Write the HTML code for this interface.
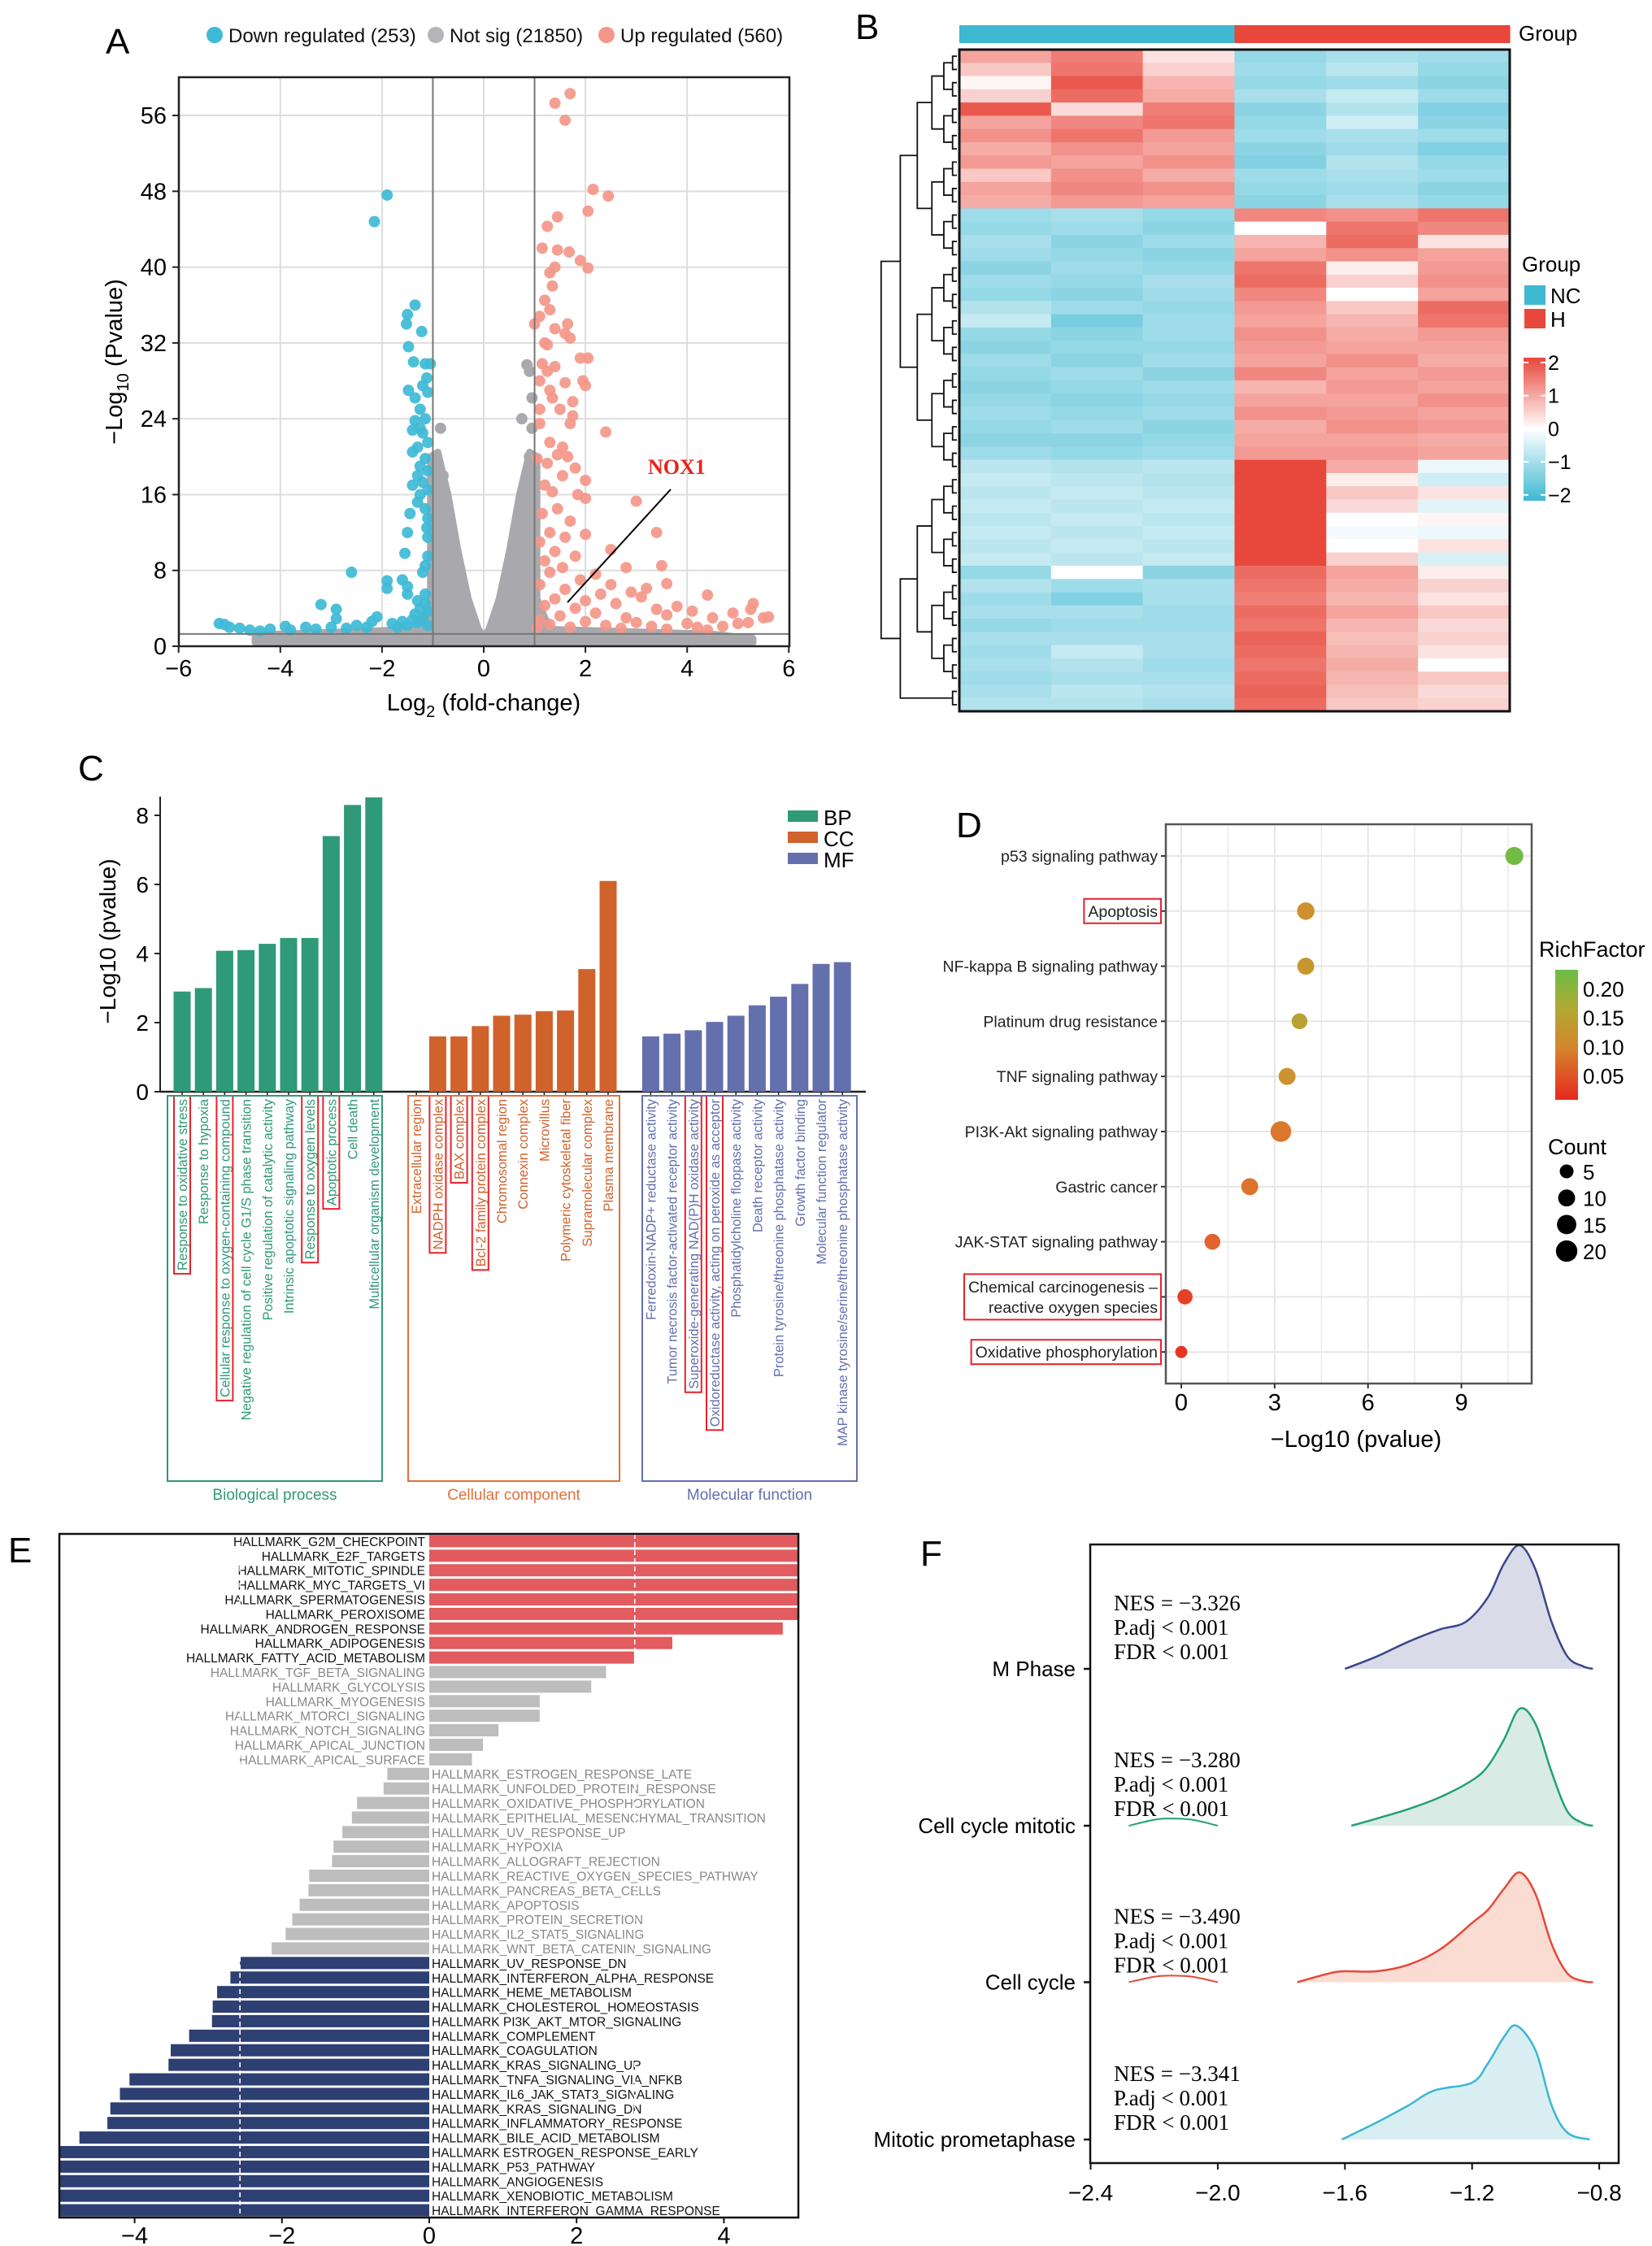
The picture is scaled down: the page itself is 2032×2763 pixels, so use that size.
<!DOCTYPE html>
<html><head><meta charset="utf-8"><title>Figure</title>
<style>
html,body{margin:0;padding:0;background:#fff;}
svg{display:block;font-family:"Liberation Sans",Arial,sans-serif;}
.serif{font-family:"Liberation Serif","Times New Roman",serif;}
</style></head>
<body>
<svg id="fig" width="2032" height="2763" viewBox="0 0 2032 2763" xmlns="http://www.w3.org/2000/svg">
<rect x="0" y="0" width="2032" height="2763" fill="#fff"/>
<text x="130" y="66" font-size="44">A</text>
<text x="1052" y="48" font-size="44">B</text>
<text x="96" y="960" font-size="44">C</text>
<text x="1176" y="1030" font-size="44">D</text>
<text x="10" y="1922" font-size="44">E</text>
<text x="1132" y="1926" font-size="44">F</text>

<g id="pA"></g>
<g id="pB"></g>
<g id="pC"></g>
<g id="pD"></g>
<g id="pE"></g>
<g id="pF"></g>
</svg>
<script>
// ---------------- DATA: Panel A (volcano) ----------------
const aTicksX = [-6,-4,-2,0,2,4,6];
const aTicksY = [0,8,16,24,32,40,48,56];
const downX = [-1.9,-2.15,-1.35,-1.5,-1.52,-1.22,-1.48,-1.38,-1.15,-1.05,-1.12,-1.2,-1.48,-1.1,-1.35,-1.25,-1.15,-1.35,-1.25,-1.4,-1.2,-1.1,-1.3,-1.4,-1.15,-1.25,-1.1,-1.3,-1.2,-1.4,-1.1,-1.25,-1.3,-1.15,-1.1,-1.45,-1.12,-1.5,-1.1,-1.55,-1.1,-1.15,-1.2,-2.6,-1.9,-1.6,-1.9,-1.5,-1.5,-1.15,-1.3,-1.15,-1.25,-1.1,-1.35,-3.2,-2.9,-2.1,-2.9,-1.2,-1.4,-1.6,-1.8,-2.2,-2.5,-3.0,-3.5,-3.9,-4.2,-4.6,-5.0,-5.2,-5.1,-4.8,-4.4,-3.8,-3.3,-2.7,-2.3,-1.7,-1.5,-1.3,-1.1];
const downY = [47.6,44.8,36,35,34,33.2,31.6,30,29.8,29.8,28.3,27.5,27,26.8,26.2,25,24,23.8,23,22.8,22.5,21.5,21,20.5,19.8,19,18.5,18,17.3,17,16.5,16,15.2,14.5,13.5,14,12.5,12,11.5,9.8,9.5,8.5,7.8,7.8,6.9,7,6.1,6.3,5.5,5.5,4.8,4.5,4,3.7,3.4,4.4,3.9,3.1,2.9,3.0,2.8,2.6,2.4,2.6,2.2,2.0,2.0,2.1,1.8,1.7,2.0,2.4,2.3,1.9,1.6,1.7,1.8,1.9,2.0,2.0,2.2,2.5,2.2];
const upX = [1.7,1.4,1.6,2.15,2.45,2.05,1.45,1.25,1.15,1.45,1.68,1.9,2.05,1.4,1.3,1.35,1.2,1.3,1.1,1.65,1.0,1.4,1.6,1.7,1.2,1.25,1.9,2.05,1.15,1.4,1.25,1.1,1.6,1.95,2.0,1.3,1.35,1.75,1.1,1.5,1.75,1.7,1.1,2.4,1.3,1.55,1.45,1.65,1.05,1.25,1.8,1.55,2.0,1.2,1.35,1.85,2.0,3.0,1.45,1.15,1.7,3.4,2.0,1.3,1.6,1.1,2.5,1.4,1.8,1.2,3.5,2.8,1.55,2.2,1.3,1.9,3.6,2.5,3.2,1.1,1.6,2.3,2.9,4.4,3.1,1.4,2.0,2.6,3.8,5.3,5.25,4.1,1.2,1.8,3.4,2.2,4.9,5.6,5.5,3.6,1.5,2.8,4.5,1.1,2.0,3.0,4.0,5.0,1.3,2.4,3.3,4.2,4.7,5.2,1.7,2.7,3.6,4.4,1.05];
const upY = [58.3,57.3,55.5,48.2,47.5,45.9,45.3,44.3,42,41.8,41.6,40.7,39.9,40,39.4,38,36.5,35.5,34.8,34,34,33.5,33,32.5,32,31.8,30.4,30.4,29.8,29.5,29,28,27.8,28,27.5,27,26.2,25.8,25,25,24.3,23.5,23.5,22.6,21.5,21,20.2,20,19.8,19.3,18.8,18,17.5,17,16.3,16,15.6,15.3,14.5,14,13.2,12,11.8,12,11.5,11,10.2,10,9.5,9,8.5,8.3,8.3,7.6,7.8,7,6.6,6.5,6.1,6.5,6,5.5,5.7,5.4,5.2,5,4.8,4.5,4.2,4.5,3.9,3.7,4.3,4.0,3.9,3.5,3.5,3.1,3.0,3.3,3.2,3.0,3.0,2.8,2.6,2.5,2.4,2.4,2.3,2.2,2.1,2.0,2.1,2.5,2.0,1.9,1.8,1.7,2.0];
const nsX = [-0.85,0.85,0.9,0.95,0.75,0.95,0.9,-0.95,4.8,5.25,-0.8];
const nsY = [23,29.7,29,26.2,24,23,20,20,0.8,0.7,18];
const nsEnvX = [-4.5,-4.5,-1.3,-1.05,-1.05,-0.9,-0.7,-0.5,-0.3,-0.1,0,0.1,0.3,0.5,0.7,0.9,1.05,1.05,1.3,4.5,5.3,5.3];
const nsEnvY = [0.4,1.2,1.8,5,20,20.5,16,10,5,1.8,1,1.8,5,10,16,20.5,20,5,1.8,1.3,0.8,0.4];

// ---------------- DATA: Panel B (heatmap) ----------------
const bSamples = ['NC1','NC2','NC3','H1','H2','H3'];
const bGroups = ['NC','NC','NC','H','H','H'];
const bRows = [
[1.0,1.4,0.3,-1.1,-0.9,-1.0],[0.6,1.5,0.5,-1.0,-0.7,-1.1],[0.1,1.8,0.8,-1.1,-1.0,-1.2],[0.5,1.6,0.9,-0.9,-0.6,-1.0],
[1.8,0.4,1.4,-1.2,-0.8,-1.3],[1.0,1.3,1.5,-1.1,-0.5,-1.2],[1.2,1.5,1.1,-1.0,-0.9,-1.0],[0.9,1.2,1.0,-1.2,-1.0,-1.3],
[1.1,1.0,1.2,-1.3,-0.8,-1.1],[0.6,1.2,0.9,-1.0,-0.9,-1.0],[1.0,1.3,1.2,-1.1,-1.0,-1.2],[0.9,1.1,1.0,-1.2,-0.9,-1.1],
[-1.0,-0.9,-1.1,1.3,1.2,1.5],[-1.1,-1.0,-1.2,0.0,1.5,1.3],[-0.9,-1.2,-1.0,0.8,1.6,0.3],[-1.0,-1.1,-1.2,1.0,1.2,1.0],
[-1.2,-1.0,-1.1,1.5,0.2,1.1],[-1.0,-1.1,-0.9,1.6,0.5,1.2],[-1.1,-1.2,-1.0,1.3,0.0,1.0],[-0.8,-1.0,-1.1,1.1,0.6,1.6],
[-0.6,-1.4,-1.0,1.0,0.8,1.5],[-1.1,-1.2,-1.0,1.2,0.9,1.1],[-1.2,-1.1,-1.1,1.1,1.0,1.0],[-1.0,-1.2,-1.0,1.0,1.2,0.9],
[-1.1,-1.0,-1.2,1.3,1.0,1.1],[-1.2,-1.1,-1.0,0.8,1.1,1.0],[-1.1,-1.2,-1.1,1.0,1.0,1.2],[-1.0,-1.1,-1.0,1.2,1.1,1.0],
[-1.1,-1.0,-1.2,0.9,1.2,1.1],[-1.2,-1.2,-1.1,1.0,1.0,0.9],[-1.0,-1.1,-1.0,1.1,1.1,1.0],
[-0.7,-0.8,-0.7,2.0,0.9,-0.2],[-0.6,-0.7,-0.8,2.0,0.2,-0.5],[-0.7,-0.6,-0.7,2.0,0.6,0.3],[-0.6,-0.7,-0.6,2.0,0.4,-0.3],
[-0.7,-0.6,-0.7,2.0,0.0,0.1],[-0.6,-0.7,-0.6,2.0,-0.1,-0.2],[-0.7,-0.6,-0.7,2.0,0.0,0.3],[-0.6,-0.7,-0.6,2.0,0.5,-0.4],
[-1.1,0.0,-1.2,1.6,1.0,0.2],[-0.8,-1.0,-0.9,1.5,0.9,0.5],[-1.0,-1.3,-0.9,1.4,0.8,0.3],[-0.9,-0.9,-1.0,1.6,1.0,0.6],
[-1.1,-1.0,-1.0,1.5,0.8,0.4],[-0.9,-0.9,-0.9,1.7,0.7,0.5],[-1.0,-0.6,-0.9,1.6,0.8,0.3],[-0.9,-0.8,-1.0,1.5,0.9,0.0],
[-1.0,-0.9,-0.9,1.6,0.8,0.6],[-0.9,-0.7,-0.8,1.7,0.7,0.4],[-0.8,-0.8,-0.9,1.6,0.6,0.5]
];
const bLegendTicks = [2,1,0,-1,-2];

// ---------------- DATA: Panel C (GO bars) ----------------
const cBPTerms = ['Response to oxidative stress','Response to hypoxia','Cellular response to oxygen-containing compound','Negative regulation of cell cycle G1/S phase transition','Positive regulation of catalytic activity','Intrinsic apoptotic signaling pathway','Response to oxygen levels','Apoptotic process','Cell death','Multicellular organism development'];
const cBPValues = [2.9,3.0,4.08,4.1,4.28,4.45,4.45,7.4,8.3,8.52];
const cCCTerms = ['Extracellular region','NADPH oxidase complex','BAX complex','Bcl-2 family protein complex','Chromosomal region','Connexin complex','Microvillus','Polymeric cytoskeletal fiber','Supramolecular complex','Plasma membrane'];
const cCCValues = [0,1.6,1.6,1.9,2.2,2.23,2.33,2.35,3.55,6.1];
const cMFTerms = ['Ferredoxin-NADP+ reductase activity','Tumor necrosis factor-activated receptor activity','Superoxide-generating NAD(P)H oxidase activity','Oxidoreductase activity, acting on peroxide as acceptor','Phosphatidylcholine floppase activity','Death receptor activity','Protein tyrosine/threonine phosphatase activity','Growth factor binding','Molecular function regulator','MAP kinase tyrosine/serine/threonine phosphatase activity'];
const cMFValues = [1.6,1.68,1.78,2.02,2.2,2.5,2.75,3.12,3.7,3.75];
const cBPBoxed = [0,2,6,7];
const cCCBoxed = [1,2,3];
const cMFBoxed = [2,3];
const cTicksY = [0,2,4,6,8];

// ---------------- DATA: Panel D (KEGG dots) ----------------
const dPathways = ['p53 signaling pathway','Apoptosis','NF-kappa B signaling pathway','Platinum drug resistance','TNF signaling pathway','PI3K-Akt signaling pathway','Gastric cancer','JAK-STAT signaling pathway','Chemical carcinogenesis –|reactive oxygen species','Oxidative phosphorylation'];
const dLogP = [10.7,4.0,4.0,3.8,3.4,3.2,2.2,1.0,0.12,0.0];
const dRich = [0.21,0.11,0.12,0.14,0.11,0.075,0.07,0.05,0.02,0.01];
const dCount = [12,11,10,8,10,18,10,8,7,3];
const dBoxed = [1,8,9];
const dTicksX = [0,3,6,9];
const dRichTicks = [0.20,0.15,0.10,0.05];
const dCountTicks = [5,10,15,20];

// ---------------- DATA: Panel E (GSEA hallmark) ----------------
const eTerms = ['HALLMARK_G2M_CHECKPOINT','HALLMARK_E2F_TARGETS','HALLMARK_MITOTIC_SPINDLE','HALLMARK_MYC_TARGETS_VI','HALLMARK_SPERMATOGENESIS','HALLMARK_PEROXISOME','HALLMARK_ANDROGEN_RESPONSE','HALLMARK_ADIPOGENESIS','HALLMARK_FATTY_ACID_METABOLISM','HALLMARK_TGF_BETA_SIGNALING','HALLMARK_GLYCOLYSIS','HALLMARK_MYOGENESIS','HALLMARK_MTORCI_SIGNALING','HALLMARK_NOTCH_SIGNALING','HALLMARK_APICAL_JUNCTION','HALLMARK_APICAL_SURFACE','HALLMARK_ESTROGEN_RESPONSE_LATE','HALLMARK_UNFOLDED_PROTEIN_RESPONSE','HALLMARK_OXIDATIVE_PHOSPHORYLATION','HALLMARK_EPITHELIAL_MESENCHYMAL_TRANSITION','HALLMARK_UV_RESPONSE_UP','HALLMARK_HYPOXIA','HALLMARK_ALLOGRAFT_REJECTION','HALLMARK_REACTIVE_OXYGEN_SPECIES_PATHWAY','HALLMARK_PANCREAS_BETA_CELLS','HALLMARK_APOPTOSIS','HALLMARK_PROTEIN_SECRETION','HALLMARK_IL2_STAT5_SIGNALING','HALLMARK_WNT_BETA_CATENIN_SIGNALING','HALLMARK_UV_RESPONSE_DN','HALLMARK_INTERFERON_ALPHA_RESPONSE','HALLMARK_HEME_METABOLISM','HALLMARK_CHOLESTEROL_HOMEOSTASIS','HALLMARK PI3K_AKT_MTOR_SIGNALING','HALLMARK_COMPLEMENT','HALLMARK_COAGULATION','HALLMARK_KRAS_SIGNALING_UP','HALLMARK_TNFA_SIGNALING_VIA_NFKB','HALLMARK_IL6_JAK_STAT3_SIGNALING','HALLMARK_KRAS_SIGNALING_DN','HALLMARK_INFLAMMATORY_RESPONSE','HALLMARK_BILE_ACID_METABOLISM','HALLMARK ESTROGEN_RESPONSE_EARLY','HALLMARK_P53_PATHWAY','HALLMARK_ANGIOGENESIS','HALLMARK_XENOBIOTIC_METABOLISM','HALLMARK_INTERFERON_GAMMA_RESPONSE'];
const eScores = [6,6,6,6,6,6,4.8,3.3,2.78,2.4,2.2,1.5,1.5,0.94,0.73,0.58,-0.57,-0.62,-0.98,-1.05,-1.18,-1.3,-1.32,-1.63,-1.64,-1.76,-1.86,-1.95,-2.14,-2.57,-2.7,-2.88,-2.94,-2.95,-3.26,-3.51,-3.54,-4.07,-4.2,-4.33,-4.37,-4.75,-6,-6,-6,-6,-6];
const eClass = ['up','up','up','up','up','up','up','up','up','ns','ns','ns','ns','ns','ns','ns','ns','ns','ns','ns','ns','ns','ns','ns','ns','ns','ns','ns','ns','down','down','down','down','down','down','down','down','down','down','down','down','down','down','down','down','down','down'];
const eTicksX = [-4,-2,0,2,4];
const eThresholds = [2.79,-2.57];

// ---------------- DATA: Panel F (ridge) ----------------
const fSets = ['M Phase','Cell cycle mitotic','Cell cycle','Mitotic prometaphase'];
const fNES = ['−3.326','−3.280','−3.490','−3.341'];
const fMX = [-1.6,-1.5,-1.4,-1.3,-1.22,-1.15,-1.1,-1.05,-1.0,-0.95,-0.9,-0.85,-0.82];
const fMY = [0,0.1,0.22,0.32,0.38,0.58,0.85,1.0,0.8,0.38,0.1,0.02,0];
const fCMX = [-1.58,-1.5,-1.4,-1.3,-1.2,-1.15,-1.1,-1.05,-1.0,-0.95,-0.9,-0.85,-0.82];
const fCMY = [0,0.06,0.14,0.24,0.38,0.5,0.72,0.98,0.85,0.45,0.12,0.02,0];
const fCCX = [-1.75,-1.65,-1.6,-1.5,-1.4,-1.3,-1.2,-1.15,-1.1,-1.05,-1.0,-0.95,-0.9,-0.85,-0.82];
const fCCY = [0,0.08,0.1,0.1,0.16,0.3,0.54,0.66,0.85,1.0,0.8,0.35,0.08,0.01,0];
const fMPX = [-1.61,-1.5,-1.4,-1.32,-1.2,-1.15,-1.1,-1.06,-1.0,-0.95,-0.9,-0.83];
const fMPY = [0,0.15,0.3,0.43,0.5,0.67,0.9,1.0,0.78,0.3,0.06,0];
const fBumpX = [-2.28,-2.2,-2.15,-2.08,-2.0];
const fBumpY = [0,0.05,0.06,0.05,0];
const fTicksX = [-2.4,-2.0,-1.6,-1.2,-0.8];

// ---------------- helpers ----------------
const NS='http://www.w3.org/2000/svg';
function mk(tag, attrs, parent){ const e=document.createElementNS(NS,tag); for(const k in attrs) e.setAttribute(k,attrs[k]); parent.appendChild(e); return e; }
function txt(s, attrs, parent){ const e=mk('text',attrs,parent); e.textContent=s; return e; }
function fmtTick(v){ return (v<0?'−':'')+Math.abs(v); }

// ================= Panel A =================
(function(){
  const g=document.getElementById('pA');
  const X0=220,X1=971,Y0=795,YT=95;
  const ax=v=>595+v*62.55, ay=v=>795-v*11.66;
  const leg=[['#3fbad6','Down regulated (253)',264],['#b5b5b8','Not sig (21850)',536],['#f4978a','Up regulated (560)',746]];
  leg.forEach(l=>{
    const c=mk('circle',{cx:l[2],cy:43,r:10,fill:l[0]},g);
    
    
    const t=txt(l[1],{x:l[2]+17,y:52,'font-size':24,fill:'#111'},g);
    
    
  });
  aTicksX.forEach(v=>{
    const l=mk('line',{x1:ax(v),x2:ax(v),y1:YT,y2:Y0,stroke:'#ddd','stroke-width':2},g);
    
    
  });
  aTicksY.forEach(v=>{
    const l=mk('line',{x1:X0,x2:X1,y1:ay(v),y2:ay(v),stroke:'#ddd','stroke-width':2},g);
    
    
  });
  let pts=nsEnvX.map((x,i)=>ax(x)+','+ay(nsEnvY[i])).join(' ');
  const env=mk('polygon',{points:pts,fill:'#a9a9ad',stroke:'#a9a9ad','stroke-width':8,'stroke-linejoin':'round'},g);
  
  
  nsX.forEach((x,i)=>{
    const c=mk('circle',{cx:ax(x),cy:ay(nsY[i]),r:7,fill:'#a9a9ad'},g);
    
    
  });
  downX.forEach((x,i)=>{
    const c=mk('circle',{cx:ax(x),cy:ay(downY[i]),r:7,fill:'#3fbad6','fill-opacity':0.92},g);
    
    
  });
  upX.forEach((x,i)=>{
    const c=mk('circle',{cx:ax(x),cy:ay(upY[i]),r:7,fill:'#f4978a','fill-opacity':0.92},g);
    
    
  });
  [-1,1].forEach(v=>{
    const l=mk('line',{x1:ax(v),x2:ax(v),y1:YT,y2:Y0,stroke:'#777','stroke-width':2},g);
    
    
  });
  const th=mk('line',{x1:X0,x2:X1,y1:ay(1.3),y2:ay(1.3),stroke:'#777','stroke-width':2},g);
  
  
  const nl=mk('line',{x1:825,y1:602,x2:698,y2:741,stroke:'#000','stroke-width':2},g);
  
  
  const nt=txt('NOX1',{x:797,y:583,'font-size':26,'font-weight':'bold',fill:'#e8231b',class:'serif'},g);
  
  
  const fr=mk('rect',{x:X0,y:YT,width:X1-X0,height:Y0-YT,fill:'none',stroke:'#222','stroke-width':2.5},g);
  
  
  aTicksX.forEach(v=>{
    const k=mk('line',{x1:ax(v),x2:ax(v),y1:Y0,y2:Y0+8,stroke:'#222','stroke-width':2},g);
    
    
    const t=txt(fmtTick(v),{x:ax(v),y:832,'font-size':29,'text-anchor':'middle'},g);
    
    
  });
  aTicksY.forEach(v=>{
    const k=mk('line',{x1:X0-8,x2:X0,y1:ay(v),y2:ay(v),stroke:'#222','stroke-width':2},g);
    
    
    const t=txt(String(v),{x:205,y:ay(v)+10,'font-size':29,'text-anchor':'end'},g);
    
    
  });
  const xt=mk('text',{x:595,y:874,'font-size':29,'text-anchor':'middle'},g);
  xt.innerHTML='Log<tspan font-size="20" dy="8">2</tspan><tspan dy="-8"> (fold-change)</tspan>';
  
  
  const yt=mk('text',{transform:'translate(150,445) rotate(-90)','font-size':29,'text-anchor':'middle'},g);
  yt.innerHTML='−Log<tspan font-size="20" dy="8">10</tspan><tspan dy="-8"> (Pvalue)</tspan>';
  
  
})();

// ================= Panel B =================
(function(){
  const g=document.getElementById('pB');
  const X0=1180,X1=1857,Y0=61,Y1=875;
  const cw=(X1-X0)/bSamples.length, rh=(Y1-Y0)/bRows.length;
  function col(v){
    v=Math.max(-2,Math.min(2,v));
    const lo=[63,184,210], hi=[232,71,59], w=[255,255,255];
    const t=Math.abs(v)/2, c=v<0?lo:hi;
    return 'rgb('+w.map((a,i)=>Math.round(a+(c[i]-a)*t)).join(',')+')';
  }
  bRows.forEach((row,i)=>{
    row.forEach((v,j)=>{
      const r=mk('rect',{x:X0+j*cw,y:Y0+i*rh,width:cw+0.6,height:rh+0.6,fill:col(v)},g);
      
      
    });
  });
  const fr=mk('rect',{x:X0,y:Y0,width:X1-X0,height:Y1-Y0,fill:'none',stroke:'#111','stroke-width':3},g);
  
  
  bGroups.forEach((gr,j)=>{
    const r=mk('rect',{x:X0+j*cw,y:31,width:cw+0.6,height:22,fill:gr==='NC'?'#3fb8d2':'#e8473b'},g);
    
    
  });
  const gl=txt('Group',{x:1868,y:50,'font-size':26},g);
  
  
  let nodes=bRows.map((r,i)=>({y:Y0+(i+0.5)*rh,x:1177}));
  let depth=0;
  while(nodes.length>1){
    depth++;
    const nx=[];
    for(let i=0;i<nodes.length;i+=2){
      if(i+1>=nodes.length){nx.push(nodes[i]);continue;}
      const a=nodes[i],b=nodes[i+1];
      const x=1177-Math.pow(depth,1.6)*5.3;
      const p=mk('path',{d:`M${a.x},${a.y}H${x}V${b.y}H${b.x}`,fill:'none',stroke:'#111','stroke-width':1.8},g);
      
      
      nx.push({x:x,y:(a.y+b.y)/2});
    }
    nodes=nx;
  }
  const lt=txt('Group',{x:1872,y:334,'font-size':26},g);
  
  
  [['NC','#3fb8d2',351],['H','#e8473b',380]].forEach(e=>{
    const r=mk('rect',{x:1875,y:e[2],width:26,height:24,fill:e[1]},g);
    
    
    const t=txt(e[0],{x:1907,y:e[2]+22,'font-size':26},g);
    
    
  });
  const defs=mk('defs',{},g);
  const lg=mk('linearGradient',{id:'bgrad',x1:0,y1:0,x2:0,y2:1},defs);
  mk('stop',{offset:'0','stop-color':'#e8473b'},lg);
  mk('stop',{offset:'0.5','stop-color':'#ffffff'},lg);
  mk('stop',{offset:'1','stop-color':'#3fb8d2'},lg);
  const cb=mk('rect',{x:1874,y:440,width:27,height:176,fill:'url(#bgrad)'},g);
  
  
  bLegendTicks.forEach((v,i)=>{
    const y=446+i*40.7;
    mk('line',{x1:1874,x2:1880,y1:y,y2:y,stroke:'#fff','stroke-width':2},g);
    mk('line',{x1:1895,x2:1901,y1:y,y2:y,stroke:'#fff','stroke-width':2},g);
    const t=txt(fmtTick(v),{x:1904,y:y+9,'font-size':25},g);
    
    
  });
})();

// ================= Panel C =================
(function(){
  const g=document.getElementById('pC');
  const base=1343, unit=42.5, pitch=26.2, bw=21;
  const cy=v=>base-v*unit, cx=i=>224+i*pitch;
  const groups=[[cBPTerms,cBPValues,cBPBoxed,0,'#2e9a78','bp'],[cCCTerms,cCCValues,cCCBoxed,11,'#d0622c','cc'],[cMFTerms,cMFValues,cMFBoxed,22,'#6470ad','mf']];
  const yl=mk('line',{x1:197,x2:197,y1:980,y2:base,stroke:'#222','stroke-width':2},g);
  
  
  const xl=mk('line',{x1:197,x2:1065,y1:base,y2:base,stroke:'#222','stroke-width':2.5},g);
  
  
  cTicksY.forEach(v=>{
    mk('line',{x1:190,x2:197,y1:cy(v),y2:cy(v),stroke:'#222','stroke-width':2},g);
    const t=txt(String(v),{x:183,y:cy(v)+10,'font-size':28,'text-anchor':'end'},g);
    
    
  });
  const yt=txt('−Log10 (pvalue)',{transform:'translate(142,1158) rotate(-90)','font-size':28,'text-anchor':'middle'},g);
  
  
  groups.forEach(gr=>{
    const [terms,vals,boxed,off,color,key]=gr;
    vals.forEach((v,i)=>{
      const x=cx(off+i);
      if(v>0){
        const r=mk('rect',{x:x-bw/2,y:cy(v),width:bw,height:base-cy(v),fill:color},g);
        
        
      }
      mk('line',{x1:x,x2:x,y1:base,y2:base+6,stroke:'#222','stroke-width':1.5},g);
      const t=txt(terms[i],{transform:`translate(${x+6},1352) rotate(-90)`,'font-size':16.5,'text-anchor':'end',fill:color},g);
      
      
      if(boxed.indexOf(i)>=0){
        const L=t.getComputedTextLength();
        const b=mk('rect',{x:x-10,y:1348,width:20,height:L+8,fill:'none',stroke:'#e8212b','stroke-width':2},g);
        
        
      }
    });
  });
  const boxes=[[206,470,'#2e9a78','Biological process'],[502,762,'#e0703a','Cellular component'],[790,1054,'#6470ad','Molecular function']];
  boxes.forEach(b=>{
    const r=mk('rect',{x:b[0],y:1348,width:b[1]-b[0],height:474,fill:'none',stroke:b[2],'stroke-width':2},g);
    
    
    const t=txt(b[3],{x:(b[0]+b[1])/2,y:1845,'font-size':19,'text-anchor':'middle',fill:b[2]},g);
    
    
  });
  [['BP','#2e9a78',997],['CC','#d0622c',1023],['MF','#6470ad',1049]].forEach(e=>{
    const r=mk('rect',{x:969,y:e[2],width:37,height:14,fill:e[1]},g);
    
    
    const t=txt(e[0],{x:1013,y:e[2]+18,'font-size':26},g);
    
    
  });
})();

// ================= Panel D =================
(function(){
  const g=document.getElementById('pD');
  const X0=1434,X1=1884,Y0=1014,Y1=1702;
  const dx=v=>1453+v*38.28, dy=i=>1053+i*67.8;
  const fr0=mk('rect',{x:X0,y:Y0,width:X1-X0,height:Y1-Y0,fill:'#fff'},g);
  
  
  [0,1.5,3,4.5,6,7.5,9,10.5].forEach(v=>{
    const l=mk('line',{x1:dx(v),x2:dx(v),y1:Y0,y2:Y1,stroke:'#e6e6e6','stroke-width':(v%3===0)?2:1.2},g);
    
    
  });
  function rc(v){
    const stops=[[0,[232,40,35]],[0.05,[226,100,45]],[0.10,[212,140,45]],[0.15,[178,168,50]],[0.22,[106,190,72]]];
    v=Math.max(0,Math.min(0.22,v));
    for(let i=0;i<stops.length-1;i++){
      const a=stops[i],b=stops[i+1];
      if(v<=b[0]){const t=(v-a[0])/(b[0]-a[0]);return 'rgb('+a[1].map((c,k)=>Math.round(c+(b[1][k]-c)*t)).join(',')+')';}
    }
  }
  dPathways.forEach((p,i)=>{
    const l=mk('line',{x1:X0,x2:X1,y1:dy(i),y2:dy(i),stroke:'#e6e6e6','stroke-width':2},g);
    
    
    mk('line',{x1:X0-6,x2:X0,y1:dy(i),y2:dy(i),stroke:'#333','stroke-width':2},g);
    const lines=p.split('|');
    let maxL=0;
    lines.forEach((s,k)=>{
      const y=dy(i)+7+(lines.length>1?(k-0.5)*25:0);
      const t=txt(s,{x:1424,y:y,'font-size':19.5,'text-anchor':'end',fill:'#222'},g);
      
      
      maxL=Math.max(maxL,t.getComputedTextLength());
    });
    if(dBoxed.indexOf(i)>=0){
      const h=lines.length>1?56:30;
      const b=mk('rect',{x:1424-maxL-5,y:dy(i)-h/2,width:maxL+9,height:h,fill:'none',stroke:'#e8212b','stroke-width':2},g);
      
      
    }
  });
  dPathways.forEach((p,i)=>{
    const c=mk('circle',{cx:dx(dLogP[i]),cy:dy(i),r:2.1*Math.sqrt(dCount[i])+3.8,fill:rc(dRich[i])},g);
    
    
  });
  const fr=mk('rect',{x:X0,y:Y0,width:X1-X0,height:Y1-Y0,fill:'none',stroke:'#555','stroke-width':2.5},g);
  
  
  dTicksX.forEach(v=>{
    mk('line',{x1:dx(v),x2:dx(v),y1:Y1,y2:Y1+6,stroke:'#333','stroke-width':2},g);
    const t=txt(String(v),{x:dx(v),y:1735,'font-size':29,'text-anchor':'middle'},g);
    
    
  });
  const xt=txt('−Log10 (pvalue)',{x:1668,y:1780,'font-size':29,'text-anchor':'middle'},g);
  
  
  const rt=txt('RichFactor',{x:1893,y:1177,'font-size':27},g);
  
  
  const defs=mk('defs',{},g);
  const lg=mk('linearGradient',{id:'dgrad',x1:0,y1:0,x2:0,y2:1},defs);
  mk('stop',{offset:'0','stop-color':'#6abe48'},lg);
  mk('stop',{offset:'0.3','stop-color':'#b2a832'},lg);
  mk('stop',{offset:'0.6','stop-color':'#d4862d'},lg);
  mk('stop',{offset:'1','stop-color':'#e8281f'},lg);
  const cb=mk('rect',{x:1913,y:1193,width:28,height:160,fill:'url(#dgrad)'},g);
  
  
  dRichTicks.forEach((v,i)=>{
    const y=1216+i*35.7;
    const t=txt(v.toFixed(2),{x:1947,y:y+10,'font-size':26},g);
    
    
  });
  const ct=txt('Count',{x:1904,y:1420,'font-size':27},g);
  
  
  dCountTicks.forEach((v,i)=>{
    const y=1441+i*32.7;
    const c=mk('circle',{cx:1927,cy:y,r:2.1*Math.sqrt(v)+3.8,fill:'#000'},g);
    
    
    const t=txt(String(v),{x:1947,y:y+10,'font-size':26},g);
    
    
  });
})();

// ================= Panel E =================
(function(){
  const g=document.getElementById('pE');
  const X0=73,X1=982,Y0=1887,Y1=2728;
  const ex=v=>528+Math.max(-5.02,Math.min(5.02,v))*90.6;
  const rp=(Y1-Y0)/eTerms.length;
  const colors={up:'#e15b5f',ns:'#bdbdbd',down:'#2e3f72'};
  const tcol={up:'#111',ns:'#888',down:'#111'};
  eTerms.forEach((t,i)=>{
    const yc=Y0+(i+0.5)*rp, v=eScores[i];
    const x0=Math.min(ex(0),ex(v)), w=Math.abs(ex(v)-ex(0));
    const r=mk('rect',{x:x0,y:yc-7.5,width:w,height:15,fill:colors[eClass[i]]},g);
    
    
    const lab=txt(t,{x:v>=0?523:531,y:yc+6,'font-size':15.5,'text-anchor':v>=0?'end':'start',fill:tcol[eClass[i]]},g);
    
    
  });
  eThresholds.forEach(v=>{
    const l=mk('line',{x1:ex(v),x2:ex(v),y1:Y0,y2:Y1,stroke:'#fff','stroke-width':1.6,'stroke-dasharray':'6,4'},g);
    
    
  });
  const fr=mk('rect',{x:X0,y:Y0,width:X1-X0,height:Y1-Y0,fill:'none',stroke:'#111','stroke-width':2.5},g);
  
  
  eTicksX.forEach(v=>{
    mk('line',{x1:ex(v),x2:ex(v),y1:Y1,y2:Y1+7,stroke:'#111','stroke-width':2},g);
    const t=txt(fmtTick(v),{x:ex(v),y:2760,'font-size':29,'text-anchor':'middle'},g);
    
    
  });
})();

// ================= Panel F =================
(function(){
  const g=document.getElementById('pF');
  const X0=1341,X1=1991,Y0=1900,Y1=2661;
  const fx=v=>1341.5+(v+2.4)*391;
  const bases=[2053,2246,2438.5,2632];
  const heights=[152,147,135,140];
  const series=[[fMX,fMY,'#dadbe8','#3b4689'],[fCMX,fCMY,'#d8ebe4','#23a078'],[fCCX,fCCY,'#fbdcd2','#e8473a'],[fMPX,fMPY,'#d9eef3','#3ab7d1']];
  function smooth(p){
    let d='M'+p[0][0]+','+p[0][1];
    for(let i=0;i<p.length-1;i++){
      const p0=p[Math.max(0,i-1)],p1=p[i],p2=p[i+1],p3=p[Math.min(p.length-1,i+2)];
      const c1=[p1[0]+(p2[0]-p0[0])/6,p1[1]+(p2[1]-p0[1])/6];
      const c2=[p2[0]-(p3[0]-p1[0])/6,p2[1]-(p3[1]-p1[1])/6];
      d+=`C${c1[0]},${c1[1]} ${c2[0]},${c2[1]} ${p2[0]},${p2[1]}`;
    }
    return d;
  }
  series.forEach((s,k)=>{
    const pts=s[0].map((x,i)=>[fx(x),bases[k]-s[1][i]*heights[k]]);
    const d=smooth(pts);
    const a=mk('path',{d:d+`L${pts[pts.length-1][0]},${bases[k]}L${pts[0][0]},${bases[k]}Z`,fill:s[2]},g);
    
    
    const l=mk('path',{d:d,fill:'none',stroke:s[3],'stroke-width':2.5},g);
    
    
    if(k===1||k===2){
      const bp=fBumpX.map((x,i)=>[fx(x),bases[k]-fBumpY[i]*heights[k]]);
      const b=mk('path',{d:smooth(bp),fill:'none',stroke:s[3],'stroke-width':2},g);
      
      
    }
    mk('line',{x1:X0-8,x2:X0,y1:bases[k],y2:bases[k],stroke:'#111','stroke-width':2.5},g);
    const lab=txt(fSets[k],{x:1323,y:bases[k]+9,'font-size':26,'text-anchor':'end'},g);
    
    
    const ty=bases[k]-72;
    const n=txt('NES = '+fNES[k],{x:1370,y:ty,'font-size':27,class:'serif'},g);
    
    
    const p=txt('P.adj  < 0.001',{x:1370,y:ty+30,'font-size':27,class:'serif'},g);
    
    
    const f=txt('FDR < 0.001',{x:1370,y:ty+60,'font-size':27,class:'serif'},g);
    
    
  });
  const fr=mk('path',{d:`M${X0},${Y0}H${X1}V${Y1}H${X0}Z`,fill:'none',stroke:'#111','stroke-width':2.5},g);
  
  
  fTicksX.forEach(v=>{
    mk('line',{x1:fx(v),x2:fx(v),y1:Y1,y2:Y1+8,stroke:'#111','stroke-width':2},g);
    const t=txt((v<0?'−':'')+Math.abs(v).toFixed(1),{x:fx(v),y:2707,'font-size':28,'text-anchor':'middle'},g);
    
    
  });
})();
</script>
</body></html>
